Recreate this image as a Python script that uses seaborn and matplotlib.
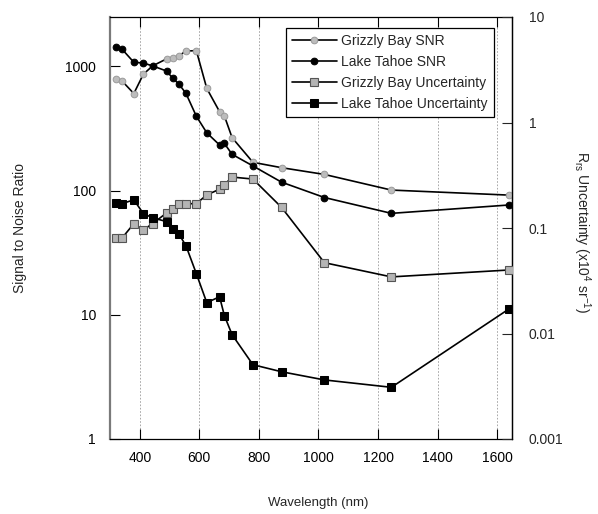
import numpy as np
import pandas as pd
import matplotlib
matplotlib.use("Agg")
import matplotlib.pyplot as plt
import seaborn as sns
from matplotlib.ticker import FixedLocator, NullLocator, FixedFormatter

# ---- data ----
wavelength = [320, 340, 380, 412, 443, 490, 510, 532, 555, 590, 625, 668, 684, 710, 780, 876, 1020, 1245, 1640]
grizzly_snr = [790, 765, 605, 865, 1010, 1150, 1160, 1220, 1330, 1340, 665, 432, 400, 267, 169, 153, 135, 101, 92]
tahoe_snr = [1425, 1380, 1080, 1065, 1010, 918, 807, 718, 607, 397, 292, 233, 240, 196, 158, 117, 88, 65.6, 76.6]
grizzly_unc = [0.080, 0.080, 0.110, 0.096, 0.110, 0.139, 0.150, 0.168, 0.170, 0.170, 0.206, 0.233, 0.257, 0.304, 0.291, 0.157, 0.0469, 0.0344, 0.040]
tahoe_unc = [0.174, 0.170, 0.185, 0.137, 0.125, 0.115, 0.098, 0.087, 0.068, 0.0369, 0.0196, 0.0223, 0.0148, 0.00975, 0.00506, 0.00434, 0.00363, 0.00309, 0.0171]
x_ticks = [400, 600, 800, 1000, 1200, 1400, 1600]
left_ticks = [1, 10, 100, 1000]
left_labels = ["1", "10", "100", "1000"]
right_ticks = [0.001, 0.01, 0.1, 1, 10]
right_labels = ["0.001", "0.01", "0.1", "1", "10"]

sns.set_style("ticks")
plt.rcParams['font.family'] = ['Liberation Sans', 'DejaVu Sans']
plt.rcParams['mathtext.fontset'] = 'custom'
plt.rcParams['mathtext.rm'] = 'Liberation Sans'
plt.rcParams['mathtext.it'] = 'Liberation Sans'

W, H = 598, 514
fig = plt.figure(figsize=(W / 100, H / 100), dpi=100)
L, R, T, B = 110, 512, 17, 439
ax = fig.add_axes([L / W, 1 - B / H, (R - L) / W, (B - T) / H])
ax2 = ax.twinx()

df = pd.DataFrame({"wl": wavelength, "gs": grizzly_snr, "ts": tahoe_snr,
                   "gu": grizzly_unc, "tu": tahoe_unc})

ax.set_yscale("log")
ax2.set_yscale("log")

lw = 1.2
sns.lineplot(data=df, x="wl", y="gs", ax=ax, color="black", lw=lw, marker="o",
             markersize=4.8, markerfacecolor="#bcbcbc", markeredgecolor="#9a9a9a",
             markeredgewidth=0.7, sort=False, label="Grizzly Bay SNR", zorder=3)
sns.lineplot(data=df, x="wl", y="ts", ax=ax, color="black", lw=lw, marker="o",
             markersize=4.8, markerfacecolor="black", markeredgecolor="black",
             sort=False, label="Lake Tahoe SNR", zorder=4)
sns.lineplot(data=df, x="wl", y="gu", ax=ax2, color="black", lw=lw, marker="s",
             markersize=5.3, markerfacecolor="#b4b4b4", markeredgecolor="#555555",
             markeredgewidth=0.8, sort=False, label="Grizzly Bay Uncertainty", zorder=3)
sns.lineplot(data=df, x="wl", y="tu", ax=ax2, color="black", lw=lw, marker="s",
             markersize=5.8, markerfacecolor="black", markeredgecolor="black",
             sort=False, label="Lake Tahoe Uncertainty", zorder=4)

ax.set_xlim(300, 1650)
ax.set_ylim(1, 2500)
ax2.set_ylim(0.001, 10)

ax.xaxis.set_major_locator(FixedLocator(x_ticks))
ax.xaxis.set_minor_locator(NullLocator())
ax.yaxis.set_major_locator(FixedLocator(left_ticks))
ax.yaxis.set_major_formatter(FixedFormatter(left_labels))
ax.yaxis.set_minor_locator(NullLocator())
ax2.yaxis.set_major_locator(FixedLocator(right_ticks))
ax2.yaxis.set_major_formatter(FixedFormatter(right_labels))
ax2.yaxis.set_minor_locator(NullLocator())

ax.grid(axis="x", linestyle=(0, (2, 2)), color="#9a9a9a", lw=0.6)
ax.grid(axis="y", visible=False)
ax2.grid(False)

fs = 10
ax.tick_params(axis="both", direction="in", length=7, width=0.8, labelsize=fs,
               top=True, right=False, colors="black", pad=9)
ax.tick_params(axis="y", pad=10)
ax2.tick_params(axis="y", direction="in", length=7, width=0.8, labelsize=fs, pad=12)

for s in ["top", "right", "bottom"]:
    ax.spines[s].set_color("black")
    ax.spines[s].set_linewidth(0.9)
ax.spines["left"].set_color("#7a7a7a")
ax.spines["left"].set_linewidth(1.6)
ax2.spines["right"].set_color("black")
ax2.spines["right"].set_linewidth(0.9)
ax2.spines["left"].set_visible(False)
for s in ["top", "bottom"]:
    ax2.spines[s].set_visible(False)

ax.set_xlabel("")
ax.set_ylabel("")
ax2.set_ylabel("")
fig.text(318 / W, 1 - 503 / H, "Wavelength (nm)", ha="center", va="center", fontsize=9.5)
fig.text(20 / W, 1 - 228 / H, "Signal to Noise Ratio", ha="center", va="center",
         rotation=90, fontsize=10)
fig.text(582 / W, 1 - 232 / H, r"R$_{\rm rs}$ Uncertainty (x10$^{4}$ sr$^{-1}$)",
         ha="center", va="center", rotation=270, fontsize=10)

h1, l1 = ax.get_legend_handles_labels()
h2, l2 = ax2.get_legend_handles_labels()
if ax.get_legend():
    ax.get_legend().remove()
if ax2.get_legend():
    ax2.get_legend().remove()
leg = ax2.legend(h1 + h2, l1 + l2, loc="upper left",
                 bbox_to_anchor=(286 / W, 1 - 28 / H), bbox_transform=fig.transFigure,
                 fontsize=10, frameon=True, fancybox=False, framealpha=1,
                 edgecolor="black", handlelength=3.2, handletextpad=0.3,
                 labelspacing=0.5, borderpad=0.45, borderaxespad=0)
leg.get_frame().set_linewidth(0.9)
leg.set_zorder(10)

fig.savefig("out.png", dpi=100)
